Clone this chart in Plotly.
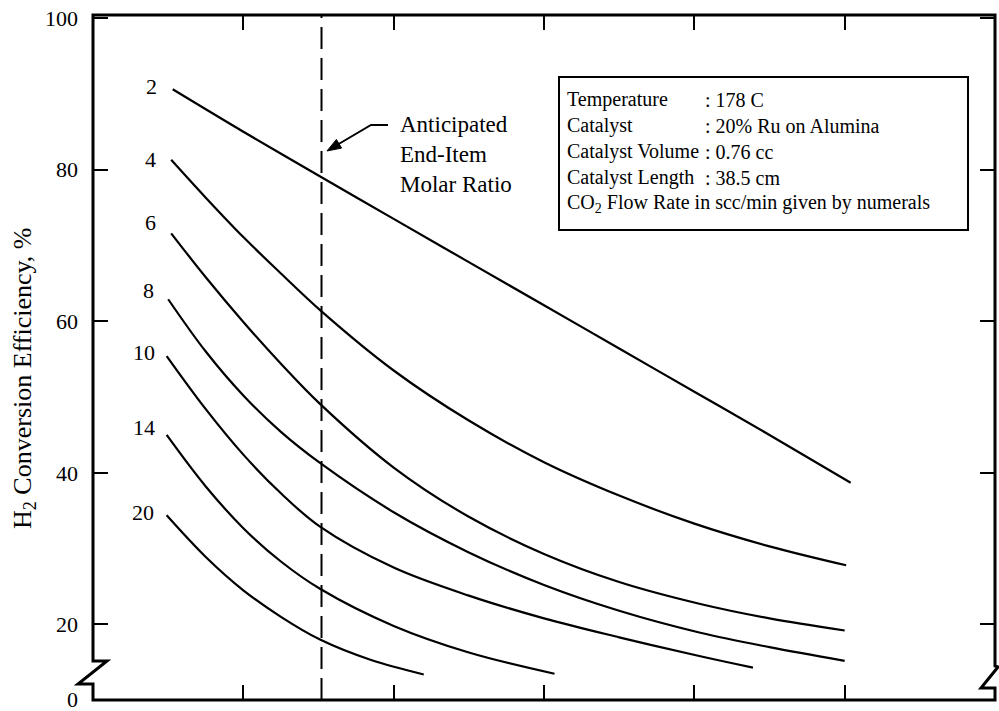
import plotly.graph_objects as go

# ---------------- data ----------------
flow_labels = ["2", "4", "6", "8", "10", "14", "20"]

x_2 = [0.53, 1.00, 1.52, 2.00, 2.50, 3.00, 3.50, 4.00, 4.50, 5.04]
y_2 = [90.6, 85.0, 79.0, 73.5, 67.8, 62.1, 56.4, 50.7, 45.0, 38.7]

x_4 = [0.52, 0.75, 1.00, 1.25, 1.52, 2.00, 2.50, 3.00, 3.50, 4.00, 4.50, 5.01]
y_4 = [81.3, 76.3, 71.1, 66.3, 61.3, 53.5, 46.9, 41.4, 37.0, 33.3, 30.3, 27.8]

x_6 = [0.52, 0.75, 1.00, 1.25, 1.51, 2.00, 2.50, 3.00, 3.50, 4.04, 4.50, 5.00]
y_6 = [71.6, 65.8, 59.9, 54.4, 49.1, 40.7, 34.2, 29.3, 25.6, 22.7, 20.8, 19.2]

x_8 = [0.50, 0.75, 1.00, 1.25, 1.51, 2.00, 2.50, 3.00, 3.50, 4.04, 4.50, 5.00]
y_8 = [62.9, 56.0, 50.2, 45.4, 41.3, 34.8, 29.5, 25.2, 21.8, 18.9, 17.0, 15.2]

x_10 = [0.49, 0.75, 1.00, 1.25, 1.51, 2.00, 2.50, 3.00, 3.50, 4.04, 4.39]
y_10 = [55.4, 48.4, 42.4, 37.3, 32.9, 27.5, 23.8, 20.8, 18.3, 15.8, 14.3]

x_14 = [0.49, 0.75, 1.00, 1.25, 1.51, 2.00, 2.50, 3.07]
y_14 = [45.0, 38.2, 32.7, 28.3, 24.7, 19.8, 16.3, 13.5]

x_20 = [0.49, 0.75, 1.00, 1.25, 1.51, 1.85, 2.20]
y_20 = [34.4, 28.9, 24.5, 21.0, 18.0, 15.3, 13.4]

curve_x = [x_2, x_4, x_6, x_8, x_10, x_14, x_20]
curve_y = [y_2, y_4, y_6, y_8, y_10, y_14, y_20]

label_x = [0.39, 0.38, 0.38, 0.37, 0.34, 0.34, 0.33]
label_y = [91.0, 81.3, 73.0, 64.0, 55.9, 46.0, 34.8]

end_item_ratio = 1.52

x_ticks = [1, 2, 3, 4, 5]
y_tickvals = [10.06, 20, 40, 60, 80, 100]
y_ticktext = ["0", "20", "40", "60", "80", "100"]

box_keys = ["Temperature", "Catalyst", "Catalyst Volume", "Catalyst Length"]
box_vals = [": 178 C", ": 20% Ru on Alumina", ": 0.76 cc", ": 38.5 cm"]
box_last = "CO<sub>2</sub> Flow Rate in scc/min given by numerals"

# ---------------- layout helpers ----------------
W, H = 999, 711
ML, MR, MT, MB = 93, 4, 15, 11
PW, PH = W - ML - MR, H - MT - MB
XR = [0, 6]
YR = [10.03, 100.4]
FONT = "Liberation Serif"


def fx(px):
    return (px - ML) / PW


def fy(py):
    return (MT + PH - py) / PH


fig = go.Figure()

for xs, ys in zip(curve_x, curve_y):
    fig.add_trace(go.Scatter(x=xs, y=ys, mode="lines",
                             line=dict(color="black", width=2.2, shape="spline", smoothing=1.0),
                             hoverinfo="skip", showlegend=False))

fig.add_trace(go.Scatter(x=[end_item_ratio, end_item_ratio], y=YR, mode="lines",
                         line=dict(color="black", width=2, dash="22px,9px"),
                         hoverinfo="skip", showlegend=False))

annotations = []
for lx, ly, t in zip(label_x, label_y, flow_labels):
    annotations.append(dict(x=lx, y=ly, text=t, showarrow=False,
                            font=dict(family=FONT, size=22, color="black"),
                            xanchor="center", yanchor="middle"))

# axis title
annotations.append(dict(x=fx(24), y=fy(378), xref="paper", yref="paper",
                        text="H<sub>2</sub> Conversion Efficiency, %", textangle=-90,
                        showarrow=False, font=dict(family=FONT, size=26, color="black"),
                        xanchor="center", yanchor="middle"))

# anticipated text
annotations.append(dict(x=fx(398), y=fy(155), xref="paper", yref="paper",
                        text="Anticipated<br>End-Item<br>Molar Ratio", align="left",
                        showarrow=False, font=dict(family=FONT, size=23, color="black"),
                        xanchor="left", yanchor="middle"))

# info box text
row_y = [100, 126, 152, 178]
for k, v, ry in zip(box_keys, box_vals, row_y):
    annotations.append(dict(x=fx(565), y=fy(ry), xref="paper", yref="paper", text=k,
                            showarrow=False, font=dict(family=FONT, size=20, color="black"),
                            xanchor="left", yanchor="middle"))
    annotations.append(dict(x=fx(703), y=fy(ry), xref="paper", yref="paper", text=v,
                            showarrow=False, font=dict(family=FONT, size=20, color="black"),
                            xanchor="left", yanchor="middle"))
annotations.append(dict(x=fx(565), y=fy(204), xref="paper", yref="paper", text=box_last,
                        showarrow=False, font=dict(family=FONT, size=20, color="black"),
                        xanchor="left", yanchor="middle"))

frame_pts = [(93, 15), (93, 661), (107, 661), (78, 684), (93, 684), (93, 700),
             (995, 700), (995, 688), (981, 688), (998, 667), (995, 666), (995, 15)]
path = "M " + " L ".join(f"{fx(a):.5f},{fy(b):.5f}" for a, b in frame_pts) + " Z"

head = [(327, 151), (341.6, 148.1), (336.4, 139.5)]
head_path = "M " + " L ".join(f"{fx(a):.5f},{fy(b):.5f}" for a, b in head) + " Z"
arrow_pts = [(388, 125), (371, 125), (337, 145)]
arrow_path = "M " + " L ".join(f"{fx(a):.5f},{fy(b):.5f}" for a, b in arrow_pts)

shapes = [
    dict(type="path", path=path, xref="paper", yref="paper",
         line=dict(color="black", width=3), fillcolor="rgba(0,0,0,0)"),
    dict(type="rect", xref="paper", yref="paper", x0=fx(559), x1=fx(968), y0=fy(77), y1=fy(230),
         line=dict(color="black", width=2), fillcolor="white"),
    dict(type="path", path=arrow_path, xref="paper", yref="paper",
         line=dict(color="black", width=2), fillcolor="rgba(0,0,0,0)"),
    dict(type="path", path=head_path, xref="paper", yref="paper",
         line=dict(color="black", width=1), fillcolor="black"),
]

fig.update_layout(
    width=W, height=H,
    margin=dict(l=ML, r=MR, t=MT, b=MB, pad=0, autoexpand=False),
    paper_bgcolor="white", plot_bgcolor="white",
    showlegend=False,
    annotations=annotations,
    shapes=shapes,
    xaxis=dict(range=XR, showgrid=False, zeroline=False, showline=False, automargin=False,
               tickvals=x_ticks, showticklabels=False, ticks="inside", ticklen=15,
               tickwidth=2, tickcolor="black", mirror="ticks"),
    yaxis=dict(range=YR, showgrid=False, zeroline=False, showline=False, automargin=False,
               tickvals=y_tickvals, ticktext=y_ticktext, ticks="inside", ticklen=15,
               tickwidth=2, tickcolor="black", mirror="ticks", ticklabelstandoff=14,
               ticklabeloverflow="allow",
               tickfont=dict(family=FONT, size=22, color="black")),
)

fig.write_html("out.html")
